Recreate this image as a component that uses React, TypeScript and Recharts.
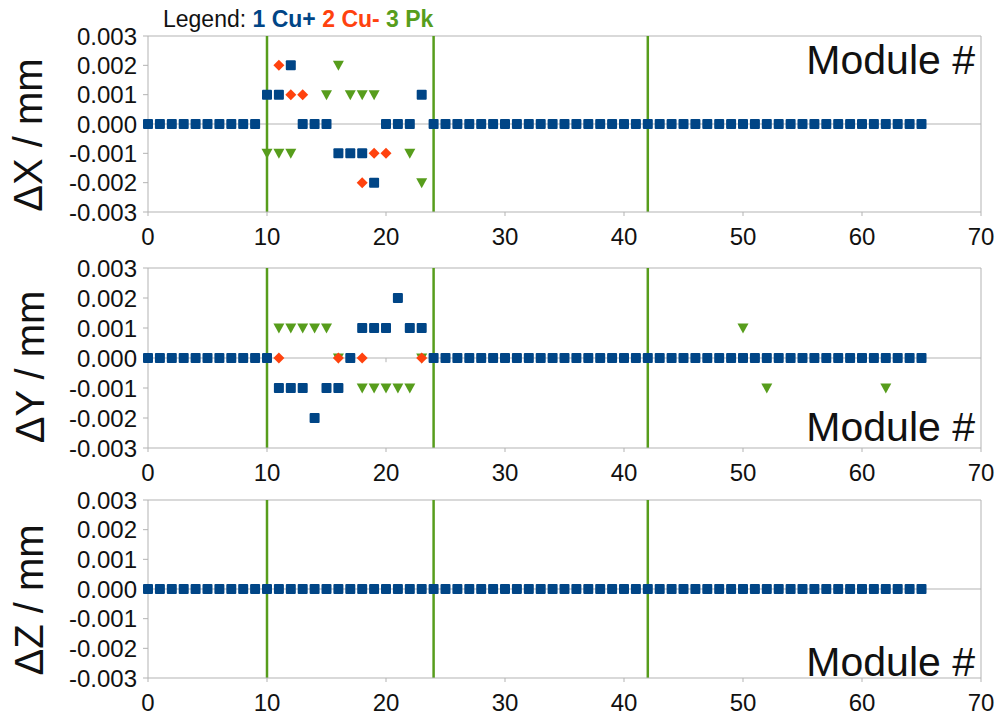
import { ScatterChart, Scatter, XAxis, YAxis, ReferenceLine } from 'recharts';

const FONT = '"Liberation Sans", Arial, sans-serif';
const BLUE = '#004586';
const ORANGE = '#ff420e';
const GREEN = '#579d1c';
const GRAY = '#b3b3b3';

// module boundaries (vertical green lines)
const boundaries = [10, 24, 42];
const xTicks = [0, 10, 20, 30, 40, 50, 60, 70];
const yTicks = [-0.003, -0.002, -0.001, 0, 0.001, 0.002, 0.003];

// series 1 (Cu+), one value per module 0..65
const dxCuPlus = [
  0, 0, 0, 0, 0, 0, 0, 0, 0, 0,
  0.001, 0.001, 0.002, 0, 0, 0, -0.001, -0.001, -0.001, -0.002,
  0, 0, 0, 0.001, 0, 0, 0, 0, 0, 0,
  0, 0, 0, 0, 0, 0, 0, 0, 0, 0,
  0, 0, 0, 0, 0, 0, 0, 0, 0, 0,
  0, 0, 0, 0, 0, 0, 0, 0, 0, 0,
  0, 0, 0, 0, 0, 0,
];
const dyCuPlus = [
  0, 0, 0, 0, 0, 0, 0, 0, 0, 0,
  0, -0.001, -0.001, -0.001, -0.002, -0.001, -0.001, 0, 0.001, 0.001,
  0.001, 0.002, 0.001, 0.001, 0, 0, 0, 0, 0, 0,
  0, 0, 0, 0, 0, 0, 0, 0, 0, 0,
  0, 0, 0, 0, 0, 0, 0, 0, 0, 0,
  0, 0, 0, 0, 0, 0, 0, 0, 0, 0,
  0, 0, 0, 0, 0, 0,
];
const dzCuPlus = [
  0, 0, 0, 0, 0, 0, 0, 0, 0, 0,
  0, 0, 0, 0, 0, 0, 0, 0, 0, 0,
  0, 0, 0, 0, 0, 0, 0, 0, 0, 0,
  0, 0, 0, 0, 0, 0, 0, 0, 0, 0,
  0, 0, 0, 0, 0, 0, 0, 0, 0, 0,
  0, 0, 0, 0, 0, 0, 0, 0, 0, 0,
  0, 0, 0, 0, 0, 0,
];

// series 2 (Cu-) and 3 (Pk): module numbers + values
const dxCuMinusModules = [11, 12, 13, 18, 19, 20];
const dxCuMinus = [0.002, 0.001, 0.001, -0.002, -0.001, -0.001];
const dxPkModules = [10, 11, 12, 15, 16, 17, 18, 19, 22, 23];
const dxPk = [-0.001, -0.001, -0.001, 0.001, 0.002, 0.001, 0.001, 0.001, -0.001, -0.002];

const dyCuMinusModules = [11, 16, 18, 23];
const dyCuMinus = [0, 0, 0, 0];
const dyPkModules = [11, 12, 13, 14, 15, 16, 18, 19, 20, 21, 22, 23, 50, 52, 62];
const dyPk = [0.001, 0.001, 0.001, 0.001, 0.001, 0, -0.001, -0.001, -0.001, -0.001, -0.001, 0, 0.001, -0.001, -0.001];

const dzCuMinusModules: number[] = [];
const dzCuMinus: number[] = [];
const dzPkModules: number[] = [];
const dzPk: number[] = [];

const toPoints = (mods: number[], vals: number[]) => mods.map((m, i) => ({ x: m, y: vals[i] }));
const fullPoints = (vals: number[]) => vals.map((v, i) => ({ x: i, y: v }));

const Square = (p: any) => <rect x={p.cx - 5} y={p.cy - 5} width={10} height={10} rx={1} fill={BLUE} />;
const Diamond = (p: any) => (
  <polygon
    points={`${p.cx},${p.cy - 5.5} ${p.cx + 5.5},${p.cy} ${p.cx},${p.cy + 5.5} ${p.cx - 5.5},${p.cy}`}
    fill={ORANGE}
  />
);
const TriDown = (p: any) => (
  <polygon points={`${p.cx - 5.5},${p.cy - 4.5} ${p.cx + 5.5},${p.cy - 4.5} ${p.cx},${p.cy + 5.5}`} fill={GREEN} />
);

interface PanelProps {
  plotTop: number;
  plotBottom: number;
  cuPlus: { x: number; y: number }[];
  cuMinus: { x: number; y: number }[];
  pk: { x: number; y: number }[];
}

const TOP_PAD = 18;
const X_AXIS_H = 40;

function Panel({ plotTop, plotBottom, cuPlus, cuMinus, pk }: PanelProps) {
  const h = plotBottom - plotTop + TOP_PAD + X_AXIS_H;
  return (
    <div style={{ position: 'absolute', left: 0, top: plotTop - TOP_PAD, width: 999, height: h }}>
      <ScatterChart width={999} height={h} margin={{ top: TOP_PAD, right: 18, bottom: 0, left: 0 }}>
        <XAxis
          type="number"
          dataKey="x"
          domain={[0, 70]}
          ticks={xTicks}
          interval={0}
          height={X_AXIS_H}
          stroke={GRAY}
          tickSize={4}
          tickMargin={12}
          tick={{ fontSize: 24, fill: '#111', fontFamily: FONT }}
        />
        <YAxis
          type="number"
          dataKey="y"
          domain={[-0.003, 0.003]}
          ticks={yTicks}
          interval={0}
          width={148}
          stroke={GRAY}
          tickSize={5}
          tickMargin={6}
          tickFormatter={(v: number) => v.toFixed(3)}
          tick={{ fontSize: 24, fill: '#111', fontFamily: FONT }}
        />
        <ReferenceLine y={0.003} stroke={GRAY} />
        <ReferenceLine x={70} stroke={GRAY} />
        <ReferenceLine y={0} stroke={GRAY} />
        {xTicks.slice(1, -1).map((t) => (
          <ReferenceLine key={t} segment={[{ x: t, y: 0 }, { x: t, y: -0.00014 }]} stroke={GRAY} />
        ))}
        {boundaries.map((b) => (
          <ReferenceLine key={`b${b}`} x={b} stroke={GREEN} strokeWidth={2.5} />
        ))}
        <Scatter data={pk} shape={TriDown} isAnimationActive={false} />
        <Scatter data={cuMinus} shape={Diamond} isAnimationActive={false} />
        <Scatter data={cuPlus} shape={Square} isAnimationActive={false} />
      </ScatterChart>
    </div>
  );
}

const yLabels = [
  { text: 'ΔX / mm', x: 42, y: 135 },
  { text: 'ΔY / mm', x: 44, y: 367 },
  { text: 'ΔZ / mm', x: 43, y: 600 },
];
const moduleLabelsY = [74, 441, 676];

export default function App() {
  return (
    <div style={{ position: 'absolute', left: 0, top: 0, width: 999, height: 715, background: '#fff', overflow: 'hidden' }}>
      <Panel plotTop={36} plotBottom={212} cuPlus={fullPoints(dxCuPlus)} cuMinus={toPoints(dxCuMinusModules, dxCuMinus)} pk={toPoints(dxPkModules, dxPk)} />
      <Panel plotTop={268} plotBottom={448} cuPlus={fullPoints(dyCuPlus)} cuMinus={toPoints(dyCuMinusModules, dyCuMinus)} pk={toPoints(dyPkModules, dyPk)} />
      <Panel plotTop={500} plotBottom={678} cuPlus={fullPoints(dzCuPlus)} cuMinus={toPoints(dzCuMinusModules, dzCuMinus)} pk={toPoints(dzPkModules, dzPk)} />
      <svg width={999} height={715} style={{ position: 'absolute', left: 0, top: 0, pointerEvents: 'none' }}>
        <text x={163} y={27} fontSize={23} fontFamily={FONT} style={{ whiteSpace: 'pre' }}>
          <tspan fill="#111">Legend: </tspan>
          <tspan fill={BLUE} fontWeight="bold">1 Cu+ </tspan>
          <tspan fill={ORANGE} fontWeight="bold">2 Cu- </tspan>
          <tspan fill={GREEN} fontWeight="bold">3 Pk</tspan>
        </text>
        {yLabels.map((l) => (
          <text key={l.text} transform={`translate(${l.x},${l.y}) rotate(-90)`} textAnchor="middle" fontSize={40} fontFamily={FONT} fill="#111">
            {l.text}
          </text>
        ))}
        {moduleLabelsY.map((y) => (
          <text key={y} x={975} y={y} textAnchor="end" fontSize={41} fontFamily={FONT} fill="#111">
            Module #
          </text>
        ))}
      </svg>
    </div>
  );
}
